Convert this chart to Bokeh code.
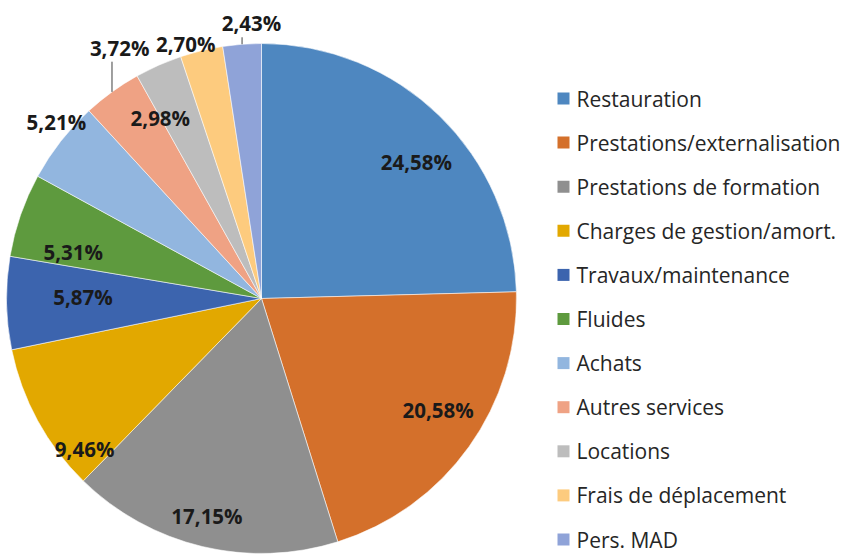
import math
from bokeh.plotting import figure
from bokeh.models import Range1d, ColumnDataSource
from bokeh.core.properties import value
from bokeh.embed import file_html
from bokeh.resources import INLINE

# ---- data ----
categories = ["Restauration", "Prestations/externalisation", "Prestations de formation",
              "Charges de gestion/amort.", "Travaux/maintenance", "Fluides", "Achats",
              "Autres services", "Locations", "Frais de déplacement", "Pers. MAD"]
shares = [24.58, 20.58, 17.15, 9.46, 5.87, 5.31, 5.21, 3.72, 2.98, 2.70, 2.43]
colors = ["#4E87C0", "#D4702B", "#8F8F8F", "#E2A800", "#3C64AE", "#5E9A3E",
          "#92B6DF", "#EFA284", "#BDBDBD", "#FDCB7E", "#8FA3D8"]

# ---- layout (style, not data) ----
W, H = 845, 554
CX, CY_S, R = 261, 298, 255          # pie centre (screen px) and radius
CY = H - CY_S
label_nudge_deg = [4.3, -3.2, 0.6, -11.7, 1.4, -5.3, 2.6, 6.4, -5.5, -3.0, 2.3]
label_frac = [0.81, 0.82, 0.88, 0.91, 0.70, 0.76, 1.06, 1.13, 0.81, 1.04, 1.08]
leader = [False] * 7 + [True, False, False, True]

total = sum(shares)
starts, ends, mids = [], [], []
cum = 0.0
for v in shares:
    a0 = cum / total * 2 * math.pi
    cum += v
    a1 = cum / total * 2 * math.pi
    starts.append(math.pi / 2 - a0)
    ends.append(math.pi / 2 - a1)
    mids.append((a0 + a1) / 2)   # clockwise from top

p = figure(width=W, height=H, x_range=Range1d(0, W), y_range=Range1d(0, H),
           output_backend="svg", toolbar_location=None, min_border=0)
p.axis.visible = False
p.grid.visible = False
p.outline_line_color = None
p.background_fill_color = "white"
p.border_fill_color = "white"

src = ColumnDataSource(dict(start=starts, end=ends, color=colors))
p.wedge(x=CX, y=CY, radius=R, start_angle="start", end_angle="end", direction="clock",
        fill_color="color", line_color="white", line_alpha=0.7, line_width=0.8, source=src)

lx, ly, lt = [], [], []
for i, v in enumerate(shares):
    cw = mids[i] + math.radians(label_nudge_deg[i])
    f = label_frac[i]
    x = CX + f * R * math.sin(cw)
    y = CY + f * R * math.cos(cw)
    lx.append(x); ly.append(y)
    lt.append(("%.2f" % v).replace(".", ",") + "%")
    if leader[i]:
        ex = CX + R * math.sin(mids[i])
        ey = CY + R * math.cos(mids[i])
        p.line([ex, ex], [ey, y - 14], line_color="#404040", line_width=1)

p.text(x=lx, y=ly, text=lt, text_align="center", text_baseline="middle",
       text_font=value("Open Sans"), text_font_style="bold", text_font_size="20.5px",
       text_color="#1a1a1a")

# legend
leg_y = [H - (98 + i * 44.1) for i in range(len(categories))]
p.scatter(x=[563] * len(categories), y=leg_y, marker="square", size=12,
          fill_color=colors, line_color=None)
p.text(x=[576] * len(categories), y=leg_y, text=categories, text_align="left",
       text_baseline="middle", text_font=value("Open Sans"), text_font_size="21px",
       text_color="#262626")

open("out.html", "w").write(file_html(p, INLINE))
